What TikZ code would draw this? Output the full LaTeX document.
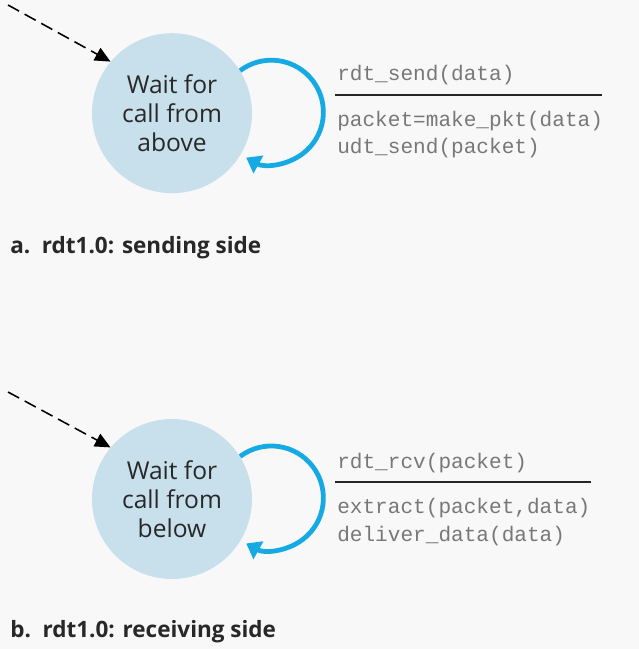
\documentclass[tikz,border=0pt]{standalone}
\usepackage{fontspec}
\setmainfont{Open Sans}
\setmonofont{Liberation Mono}
\usetikzlibrary{arrows.meta}
\definecolor{bgpaper}{RGB}{248,248,248}
\definecolor{statefill}{RGB}{200,224,236}
\definecolor{loopblue}{RGB}{22,170,228}
\definecolor{codegray}{RGB}{120,120,120}
\definecolor{inkgray}{RGB}{40,40,40}
\begin{document}
\begin{tikzpicture}[
  state/.style={circle, fill=statefill, minimum size=4cm, inner sep=0pt, align=center,
    text=inkgray, font=\fontsize{17.5}{20.5}\selectfont},
  selfloop/.style={loopblue, line width=3.4pt, -{Triangle[length=10pt,width=14pt]}},
  initial/.style={dash pattern=on 9pt off 4.5pt, line width=1.1pt, -{Triangle[length=11pt,width=10pt]}},
  code/.style={anchor=west, inner sep=0pt, text=codegray, font=\ttfamily\fontsize{15}{18}\selectfont},
  caption/.style={anchor=base west, inner sep=0pt, text=inkgray, font=\bfseries\fontsize{16}{19}\selectfont}]
\fill[bgpaper] (0,0) rectangle (15.975,-16.225);
\useasboundingbox (0,0) rectangle (15.975,-16.225);
% sending side
\node[state] (send) at (4.3,-2.83) {Wait for\\call from\\above};
\coordinate (sendstart) at (0.2,-0.125);
\draw[initial] (sendstart) -- (send.140);
\draw[selfloop] (send.32) arc[start angle=127, end angle=-119, radius=1.3];
\node[code] (sendev) at (8.425,-1.875) {rdt\_send(data)};
\draw[line width=1pt, black!85] (8.375,-2.375) -- (15.05,-2.375);
\node[code] (sendact1) at (8.425,-3.025) {packet=make\_pkt(data)};
\node[code] (sendact2) at (8.425,-3.7) {udt\_send(packet)};
\node[caption] (capa) at (0.25,-6.325) {a.\ \ rdt1.0: sending side};
% receiving side
\node[state] (recv) at (4.3,-12.475) {Wait for\\call from\\below};
\coordinate (recvstart) at (0.2,-9.8);
\draw[initial] (recvstart) -- (recv.140);
\draw[selfloop] (recv.32) arc[start angle=127, end angle=-119, radius=1.3];
\node[code] (recvev) at (8.425,-11.575) {rdt\_rcv(packet)};
\draw[line width=1pt, black!85] (8.375,-12.05) -- (14.775,-12.05);
\node[code] (recvact1) at (8.425,-12.7) {extract(packet,data)};
\node[code] (recvact2) at (8.425,-13.4) {deliver\_data(data)};
\node[caption] (capb) at (0.25,-15.925) {b.\ \ rdt1.0: receiving side};
\end{tikzpicture}
\end{document}
